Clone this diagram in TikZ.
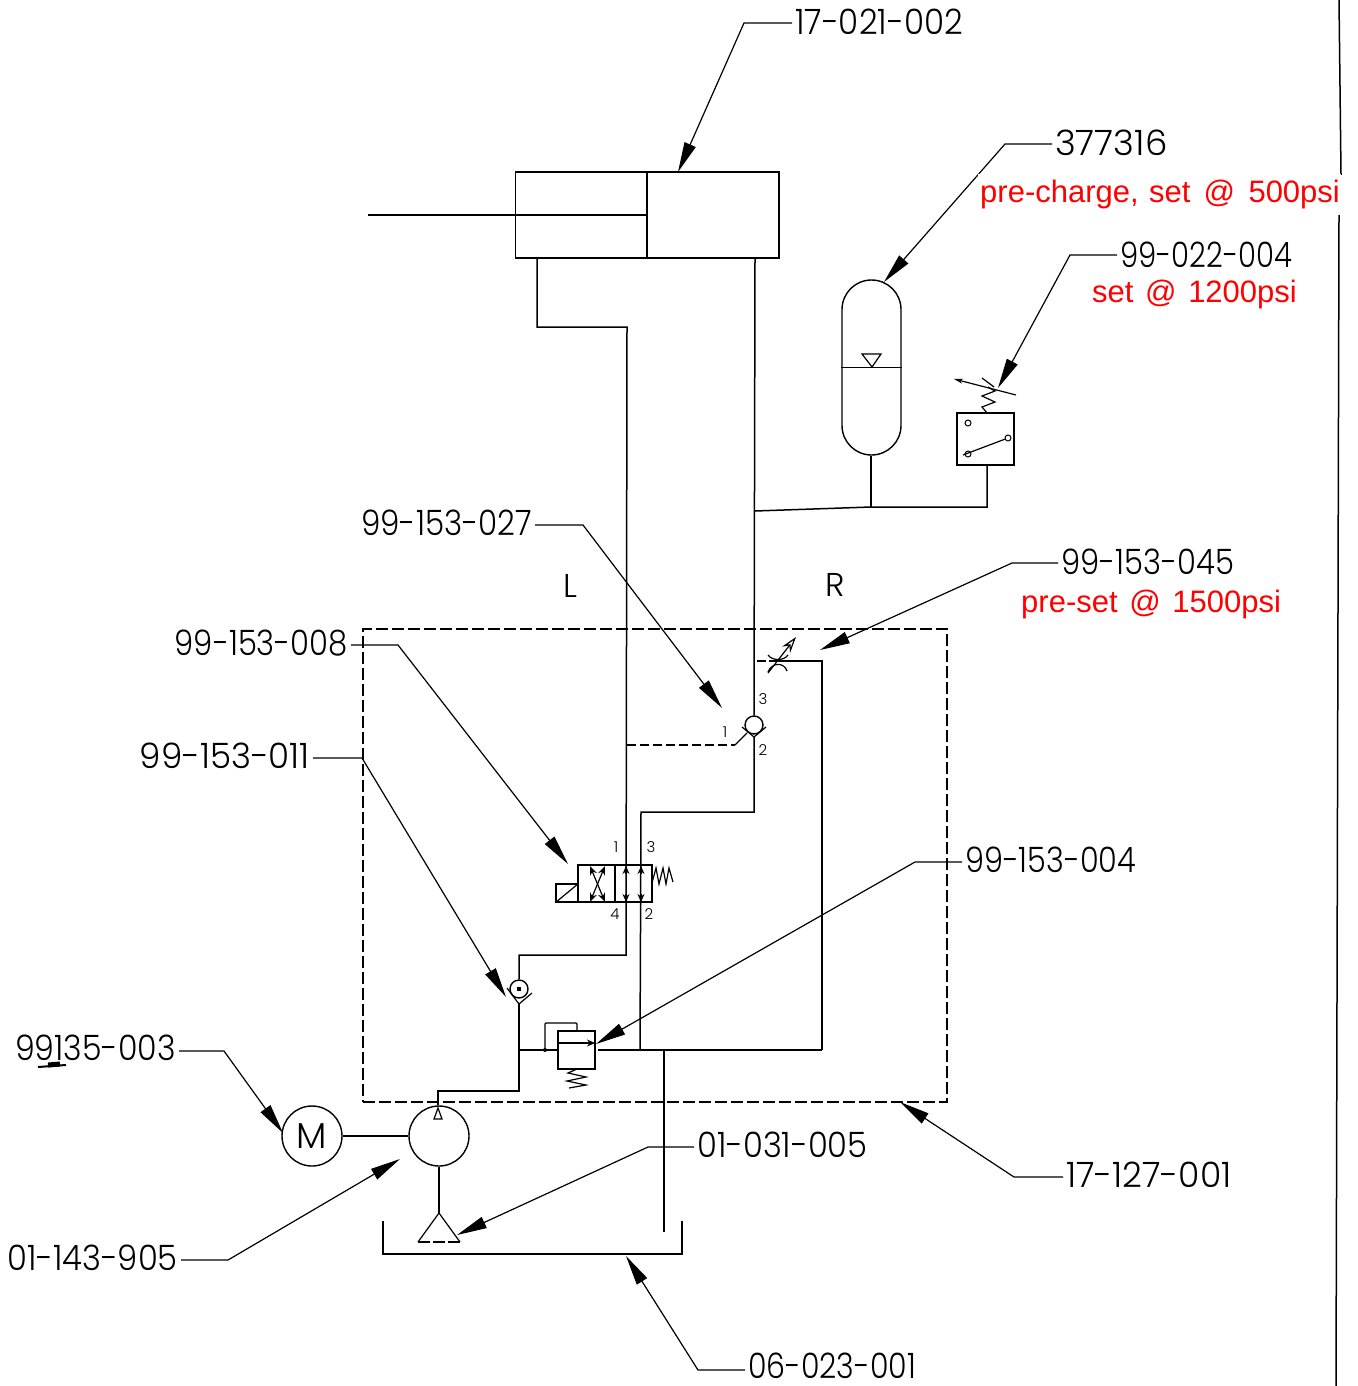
\documentclass[tikz,border=0pt]{standalone}
\usepackage{fontspec}
\usepackage{graphicx}
\setmainfont{Poppins Light}
\newfontfamily\redfont{Liberation Sans}
\usetikzlibrary{arrows.meta,shapes.geometric}
\newcommand{\partnum}[2]{\scalebox{#1}[1]{#2}}
\tikzset{
  x=1pt,y=-1pt,
  pipe/.style={draw=black,line width=1.5pt,line join=miter},
  thin pipe/.style={draw=black,line width=1.2pt},
  dash pipe/.style={draw=black,line width=1.2pt,dash pattern=on 9pt off 4pt},
  lead/.style={draw=black,line width=1.2pt,-{Stealth[length=30pt,width=12pt,inset=0pt]}},
  partno/.style={font=\fontsize{35}{40}\selectfont,inner sep=3pt,anchor=west,text=black},
  rednote/.style={font=\redfont\fontsize{31}{36}\selectfont,inner sep=0pt,anchor=west,text=red},
  portno/.style={font=\fontsize{15}{18}\selectfont,inner sep=0pt},
  sidelbl/.style={font=\fontsize{33}{38}\selectfont,inner sep=0pt},
  bigcirc/.style={draw=black,line width=1.4pt,circle,minimum size=60pt,inner sep=0pt},
  smallcirc/.style={draw=black,line width=1.4pt,circle,minimum size=18pt,inner sep=0pt},
  portcirc/.style={draw=black,line width=1pt,circle,minimum size=6pt,inner sep=0pt},
  boxed/.style={draw=black,line width=1.4pt,rectangle,inner sep=0pt},
}
\begin{document}
\begin{tikzpicture}
\useasboundingbox (0,0) rectangle (1357,1386);
% right frame line
\coordinate (fa) at (1339,0); \coordinate (fb) at (1341,175);
\coordinate (fc) at (1339,215); \coordinate (fd) at (1336,1386);
\draw[thin pipe,line width=1.5pt] (fa) -- (fb) (fc) -- (fd);

% cylinder
\node[boxed,minimum width=132pt,minimum height=86pt] (cylL) at (581.5,215) {};
\node[boxed,minimum width=132pt,minimum height=86pt] (cylR) at (713,215) {};
\coordinate (rodEnd) at (368,215);
\draw[thin pipe] (rodEnd) -- (cylL.east);

% accumulator
\node[draw=black,line width=1.4pt,rounded corners=29.5pt,minimum width=59pt,minimum height=175pt,inner sep=0pt] (accu) at (871.5,367.5) {};
\draw[thin pipe] (accu.west) -- (accu.east);
\coordinate (at1) at (862,354); \coordinate (at2) at (881,354); \coordinate (at3) at (872,367);
\draw[thin pipe,line join=miter] (at1) -- (at2) -- (at3) -- cycle;

% pressure switch
\node[boxed,minimum width=57pt,minimum height=52pt] (swbox) at (985.5,439) {};
\node[portcirc] (swa) at (968,423) {};
\node[portcirc] (swb) at (968,454) {};
\node[portcirc] (swc) at (1008,438) {};
\coordinate (swl) at (963,455);
\draw[thin pipe] (swl) -- (swc);
\coordinate (sp0) at (987,413);
\draw[thin pipe] (sp0) -- (982,407) -- (995,402) -- (982,396) -- (995,391) -- (988,387);
\coordinate (swAr1) at (1016,395); \coordinate (swAr2) at (954,379);
\draw[thin pipe,-{Stealth[length=9pt,width=5pt]}] (swAr1) -- (swAr2);
\coordinate (swt1) at (982,378); \coordinate (swt2) at (994,387);
\draw[thin pipe] (swt1) -- (swt2);

% pipes to accumulator and switch
\coordinate (j0) at (755,511); \coordinate (j1) at (871,507); \coordinate (j2) at (987,507);
\draw[pipe] (j0) -- (j1) -- (j2) -- (j2 |- swbox.south);
\draw[pipe] (j1) -- (j1 |- accu.south);

% main R pipe and shuttle valve
\node[smallcirc] (shut) at (754,725) {};
\coordinate (rTop) at (755,258);
\draw[pipe] (rTop) -- (shut.north);
\coordinate (shutV) at (754,737);
\coordinate (shutVl) at (742,727); \coordinate (shutVr) at (766,727);
\draw[thin pipe] (shutVl) -- (shutV) -- (shutVr);
\coordinate (rm) at (754,812); \coordinate (rn) at (641,812); \coordinate (ro) at (640,1050);
\draw[pipe] (shutV) -- (rm) -- (rn) -- (ro);

% L pipe
\coordinate (la) at (537,258); \coordinate (lb) at (537,327); \coordinate (lc) at (627,327);
\coordinate (ld) at (626,955); \coordinate (le) at (519,955);
\node[smallcirc] (chk) at (519,989) {};
\draw[pipe] (la) -- (lb) -- (lc) -- (ld) -- (le) -- (chk.north);
\coordinate (chkV) at (519,1004);
\coordinate (chkVl) at (507,988); \coordinate (chkVr) at (532,993);
\draw[thin pipe] (chkVl) -- (chkV) -- (chkVr);
\fill (517,987) rectangle (521,991);

% pilot dashed
\coordinate (pa) at (627,745); \coordinate (pb) at (735,745); \coordinate (pc) at (747,733);
\draw[dash pipe] (pa) -- (pb);
\draw[thin pipe] (pb) -- (pc);

% restrictor branch
\coordinate (ra) at (757,661); \coordinate (rb) at (778,661); \coordinate (rc) at (822,661);
\coordinate (rd) at (822,1050);
\draw[dash pipe,dash pattern=on 9pt off 3pt] (ra) -- (rb);
\draw[pipe] (rb) -- (rc) -- (rd);
\draw[thin pipe] (768,655) .. controls (772,661) and (784,661) .. (788,655);
\draw[thin pipe] (768,672) .. controls (772,662) and (784,662) .. (787,671);
\coordinate (rArS) at (768,673); \coordinate (rArE) at (796,637);
\draw[thin pipe,-{Stealth[length=16pt,width=10pt,open,fill=white]}] (rArS) -- (rArE);

% directional valve
\node[boxed,minimum width=37pt,minimum height=37pt] (dvA) at (596.5,883.5) {};
\node[boxed,minimum width=37pt,minimum height=37pt] (dvB) at (633.5,883.5) {};
\node[boxed,minimum width=22pt,minimum height=18pt] (sol) at (567,893) {};
\draw[thin pipe] (sol.south west) -- (sol.north east);
\coordinate (xa) at (590,866); \coordinate (xb) at (605,902);
\coordinate (xc) at (605,866); \coordinate (xd) at (590,902);
\draw[thin pipe,{Stealth[length=9pt,width=7pt]}-{Stealth[length=9pt,width=7pt]}] (xa) -- (xb);
\draw[thin pipe,{Stealth[length=9pt,width=7pt]}-{Stealth[length=9pt,width=7pt]}] (xc) -- (xd);
\coordinate (d1) at (626,866); \coordinate (d2) at (626,902);
\coordinate (d3) at (641,866); \coordinate (d4) at (641,902);
\draw[thin pipe,{Stealth[length=8pt,width=7pt]}-] (d1) -- +(0,8);
\draw[thin pipe,{Stealth[length=8pt,width=7pt]}-] (d3) -- +(0,8);
\draw[thin pipe,{Stealth[length=8pt,width=7pt]}-] (d2) -- +(0,-8);
\draw[thin pipe,{Stealth[length=8pt,width=7pt]}-] (d4) -- +(0,-8);
\coordinate (dsp) at (652,883);
\draw[thin pipe] (dsp) -- (656,868) -- (659,884) -- (663,868) -- (666,884) -- (669,868) -- (673,882);

% relief valve
\node[boxed,minimum width=37pt,minimum height=38pt] (rel) at (576.5,1050) {};
\coordinate (relL) at (558,1043); \coordinate (relR) at (595,1043);
\draw[thin pipe,-{Stealth[length=8pt,width=7pt]}] (relL) -- (relR);
\coordinate (jn) at (545,1050); \coordinate (jna) at (545,1023); \coordinate (jnb) at (577,1023);
\draw[thin pipe,rounded corners=1pt] (jn) -- (jna) -- (jnb) -- (jnb |- rel.north);
\fill (jn) circle (2pt);
\coordinate (relSp) at (577,1069);
\draw[thin pipe] (relSp) -- (568,1073) -- (586,1077) -- (567,1081) -- (586,1085) -- (569,1088);
\coordinate (b0) at (519,1050); \coordinate (b1) at (598,1050); \coordinate (b2) at (664,1050);
\draw[pipe] (b0) -- (rel.west);
\draw[pipe] (b1) -- (rd);

% pump and motor
\node[bigcirc] (pump) at (439,1136) {};
\node[bigcirc,font=\fontsize{36}{40}\selectfont] (motor) at (312,1136) {M};
\draw[thin pipe] (motor) -- (pump);
\coordinate (pa2) at (519,1091); \coordinate (pa3) at (438,1091);
\draw[pipe] (chkV) -- (pa2) -- (pa3) -- (pump.north -| pa3);
\coordinate (tri1) at (438,1108); \coordinate (tri2) at (434,1119); \coordinate (tri3) at (442,1119);
\draw[thin pipe] (tri1) -- (tri2) -- (tri3) -- cycle;
% suction strainer
\coordinate (st0) at (439,1213); \coordinate (st1) at (418,1242); \coordinate (st2) at (460,1242);
\draw[thin pipe] (pump.south) -- (st0);
\draw[thin pipe] (st1) -- (st0) -- (st2);
\draw[thin pipe,dash pattern=on 12pt off 3pt] (st1) -- (st2);

% tank
\coordinate (t0) at (383,1221); \coordinate (t1) at (383,1254); \coordinate (t2) at (682,1254); \coordinate (t3) at (682,1221);
\draw[pipe] (t0) -- (t1) -- (t2) -- (t3);
\coordinate (ret) at (664,1232);
\draw[pipe] (b2) -- (ret);

% manifold
\node[draw=black,line width=1.2pt,dash pattern=on 12pt off 4pt,minimum width=584pt,minimum height=473pt,inner sep=0pt] (mani) at (655,865.5) {};

% labels + leaders
\node[partno] (n1) at (792,22) {\partnum{.93}{17-021-002}};
\coordinate (e1) at (744,23); \coordinate (a1) at (678,172);
\draw[lead] (e1 -| n1.west) -- (e1) -- (a1);

\node[partno] (n2) at (1052,143) {\partnum{1.015}{377316}};
\coordinate (e2) at (1005,144); \coordinate (a2) at (884,282);
\draw[lead] (e2 -| n2.west) -- (e2) -- (a2);
\node[rednote,fill=white,minimum height=40pt,text width=363pt] (r2) at (978,194) {\mbox{\hspace{2pt}pre-charge, set\hspace{3pt} @\hspace{3pt} 500psi}};

\node[partno] (n3) at (1117,255) {\partnum{.833}{99-022-004}};
\coordinate (e3) at (1070,255); \coordinate (a3) at (998,388);
\draw[lead] (e3 -| n3.west) -- (e3) -- (a3);
\node[rednote] (r3) at (1092,294) {set\hspace{3pt} @\hspace{3pt} 1200psi};

\node[partno,anchor=east] (n4) at (535,523) {\partnum{.886}{99-153-027}};
\coordinate (e4) at (583,525); \coordinate (a4) at (722,708);
\draw[lead] (e4 -| n4.east) -- (e4) -- (a4);

\node[partno,anchor=east] (n5) at (351,643) {\partnum{.877}{99-153-008}};
\coordinate (e5) at (398,645); \coordinate (a5) at (568,864);
\draw[lead] (e5 -| n5.east) -- (e5) -- (a5);

\node[partno,anchor=east] (n6) at (313,756) {\partnum{.975}{99-153-011}};
\coordinate (e6) at (362,758); \coordinate (a6) at (506,997);
\draw[lead] (e6 -| n6.east) -- (e6) -- (a6);

\node[partno] (n7) at (1058,562) {\partnum{.877}{99-153-045}};
\coordinate (e7) at (1012,563); \coordinate (a7) at (820,650);
\draw[lead] (e7 -| n7.west) -- (e7) -- (a7);
\node[rednote] (r7) at (1021,604) {pre-set\hspace{3pt} @\hspace{3pt} 1500psi};

\node[partno] (n8) at (962,860) {\partnum{.868}{99-153-004}};
\coordinate (e8) at (915,862); \coordinate (a8) at (596,1044);
\draw[lead] (e8 -| n8.west) -- (e8) -- (a8);

\node[partno,anchor=east] (n9) at (179,1048) {\partnum{.904}{99135-003}};
\coordinate (e9) at (224,1051); \coordinate (a9) at (283,1133);
\draw[lead] (e9 -| n9.east) -- (e9) -- (a9);
\draw[line width=2pt] (38,1067) -- (66,1065);
\draw[line width=5pt] (48,1065) -- (60,1064);

\node[partno,anchor=east] (n10) at (181,1258) {\partnum{.921}{01-143-905}};
\coordinate (e10) at (228,1260); \coordinate (a10) at (400,1159);
\draw[lead] (e10 -| n10.east) -- (e10) -- (a10);

\node[partno] (n11) at (694,1145) {\partnum{.921}{01-031-005}};
\coordinate (e11) at (648,1147); \coordinate (a11) at (457,1235);
\draw[lead] (e11 -| n11.west) -- (e11) -- (a11);

\node[partno] (n12) at (1063,1175) {\partnum{.988}{17-127-001}};
\coordinate (e12) at (1014,1177); \coordinate (a12) at (900,1102);
\draw[lead] (e12 -| n12.west) -- (e12) -- (a12);

\node[partno] (n13) at (745,1366) {\partnum{.859}{06-023-001}};
\coordinate (e13) at (698,1370); \coordinate (a13) at (626,1256);
\draw[lead] (e13 -| n13.west) -- (e13) -- (a13);

% L R and ports
\node[sidelbl] (lblL) at (570,586) {L};
\node[sidelbl] (lblR) at (835,585) {R};
\node[portno] (p1) at (616,847) {1};
\node[portno] (p3) at (651,847) {3};
\node[portno] (p4) at (615,914) {4};
\node[portno] (p2) at (649,914) {2};
\node[portno] (q3) at (763,699) {3};
\node[portno] (q1) at (725,732) {1};
\node[portno] (q2) at (763,750) {2};
\end{tikzpicture}
\end{document}
